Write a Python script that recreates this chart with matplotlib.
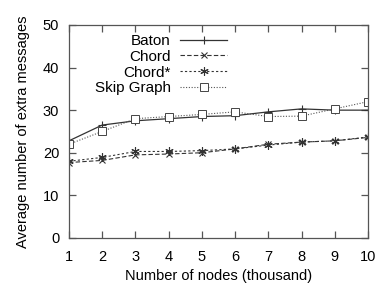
import matplotlib
matplotlib.use("Agg")
import matplotlib.pyplot as plt

plt.rcParams['font.family'] = ['Liberation Sans', 'DejaVu Sans']

nodes = [1, 2, 3, 4, 5, 6, 7, 8, 9, 10]
baton = [22.8, 26.5, 27.5, 28.0, 28.5, 28.7, 29.6, 30.3, 30.0, 30.0]
chord = [17.7, 18.2, 19.5, 19.7, 20.0, 20.9, 22.0, 22.5, 22.8, 23.6]
chord_star = [18.0, 18.9, 20.3, 20.3, 20.5, 20.9, 21.8, 22.5, 22.8, 23.7]
skip_graph = [22.0, 25.0, 28.0, 28.5, 29.0, 29.6, 28.5, 28.6, 30.3, 32.0]

yticks = [0, 10, 20, 30, 40, 50]

fig = plt.figure(figsize=(3.79, 2.87), dpi=100)
ax = fig.add_axes([0.182, 0.171, 0.789, 0.742])

c = '#333333'
ax.plot(nodes, baton, color=c, lw=0.9, ls='-', marker='+', ms=6, mew=0.8, label='Baton')
ax.plot(nodes, chord, color=c, lw=0.8, ls=(0, (4, 2)), marker='x', ms=5, mew=0.8, label='Chord')
ax.plot(nodes, chord_star, color=c, lw=0.8, ls=(0, (2, 2)), marker=(6, 2, 0), ms=6, mew=0.8, label='Chord*')
ax.plot(nodes, skip_graph, color='#555555', lw=0.8, ls=(0, (1, 1.5)), marker='s', ms=6, mew=0.7,
        mfc='white', mec='#444444', label='Skip Graph')

ax.set_xlim(1, 10)
ax.set_ylim(0, 50)
ax.set_xticks(nodes)
ax.set_yticks(yticks)
ax.tick_params(direction='in', top=True, right=True, length=5, width=0.9, color='#555555',
               labelsize=10.5)
ax.tick_params(axis='x', pad=9)
ax.tick_params(axis='y', pad=7)
for s in ax.spines.values():
    s.set_color('#555555')
    s.set_linewidth(0.9)

ax.set_xlabel('Number of nodes (thousand)', fontsize=10.5, labelpad=3)
ax.set_ylabel('Average number of extra messages', fontsize=10.5, labelpad=9)

leg = ax.legend(loc='upper left', bbox_to_anchor=(0.045, 1.015), frameon=False, markerfirst=False,
                fontsize=11, handlelength=3.1, handletextpad=0.6, labelspacing=0.12,
                borderaxespad=0.4)
for t in leg.get_texts():
    t.set_ha('right')
leg._legend_box.align = 'right'

fig.savefig('out.png', dpi=100)
